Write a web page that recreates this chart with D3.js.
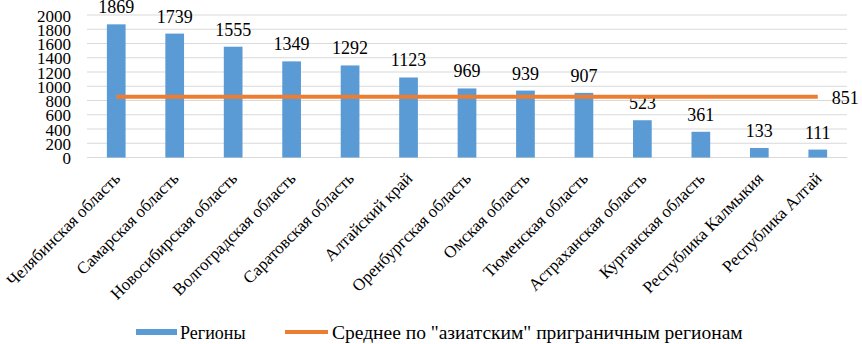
<!DOCTYPE html>
<html>
<head>
<meta charset="utf-8">
<script src="https://cdn.jsdelivr.net/npm/d3@7"></script>
<style>
  html, body { margin: 0; padding: 0; background: #fff; }
  svg { display: block; }
  svg text { font-family: "Liberation Serif", "Times New Roman", Times, serif; }
</style>
</head>
<body>
<svg id="chart" width="862" height="344"></svg>
<script>
const regions = [
  "Челябинская область", "Самарская область", "Новосибирская область",
  "Волгоградская область", "Саратовская область", "Алтайский край",
  "Оренбургская область", "Омская область", "Тюменская область",
  "Астраханская область", "Курганская область", "Республика Калмыкия",
  "Республика Алтай"
];
const values = [1869, 1739, 1555, 1349, 1292, 1123, 969, 939, 907, 523, 361, 133, 111];
const average = [851, 851, 851, 851, 851, 851, 851, 851, 851, 851, 851, 851, 851];
const yTicks = [0, 200, 400, 600, 800, 1000, 1200, 1400, 1600, 1800, 2000];
const legendLabels = ["Регионы", "Среднее по \"азиатским\" приграничным регионам"];

const blue = "#5b9bd5";
const orange = "#ed7d31";

const svg = d3.select("#chart");
const dims = { left: 87, right: 847, top: 15, bottom: 157.5 };

const x = d3.scaleBand()
  .domain(regions)
  .range([dims.left, dims.right])
  .paddingInner(0.68)
  .paddingOuter(0.34);

const y = d3.scaleLinear()
  .domain([0, 2000])
  .range([dims.bottom, dims.top]);

const cx = i => x(regions[i]) + x.bandwidth() / 2;

// gridlines
svg.append("g")
  .selectAll("line")
  .data(yTicks)
  .join("line")
  .attr("x1", dims.left)
  .attr("x2", dims.right)
  .attr("y1", d => y(d))
  .attr("y2", d => y(d))
  .attr("stroke", "#d9d9d9")
  .attr("stroke-width", 1);

// y axis labels (no domain, no ticks, just the numbers)
const yAxis = svg.append("g")
  .attr("transform", `translate(${dims.left - 16},0)`)
  .call(d3.axisLeft(y).tickValues(yTicks).tickSize(0).tickPadding(0).tickFormat(d3.format("d")))
  .attr("font-family", null)
  .attr("font-size", 17);
yAxis.select(".domain").remove();
yAxis.selectAll("text")
  .attr("fill", "#000")
  .attr("dy", "0.36em");

// bars
svg.append("g")
  .selectAll("rect")
  .data(values)
  .join("rect")
  .attr("x", (d, i) => x(regions[i]))
  .attr("width", x.bandwidth())
  .attr("y", d => y(d))
  .attr("height", d => y(0) - y(d))
  .attr("fill", blue);

// bar value labels
svg.append("g")
  .selectAll("text")
  .data(values)
  .join("text")
  .attr("x", (d, i) => cx(i))
  .attr("y", d => y(d) - 11)
  .attr("text-anchor", "middle")
  .attr("font-size", 18)
  .attr("fill", "#000")
  .text(d => d);

// average line
svg.append("path")
  .datum(average)
  .attr("fill", "none")
  .attr("stroke", orange)
  .attr("stroke-width", 4)
  .attr("d", d3.line().x((d, i) => cx(i)).y(d => y(d)));

const last = average.length - 1;
svg.append("text")
  .attr("x", cx(last) + 14)
  .attr("y", y(average[last]))
  .attr("dy", "0.4em")
  .attr("font-size", 18)
  .attr("fill", "#000")
  .text(average[last]);

// category labels, rotated
svg.append("g")
  .selectAll("text")
  .data(regions)
  .join("text")
  .attr("transform", d => `translate(${x(d) + x.bandwidth() / 2 + 5},${dims.bottom + 22}) rotate(-45)`)
  .attr("text-anchor", "end")
  .attr("font-size", 17)
  .attr("fill", "#000")
  .text(d => d);

// legend
const legend = svg.append("g");
legend.append("rect")
  .attr("x", 136).attr("y", 329)
  .attr("width", 41).attr("height", 6)
  .attr("fill", blue);
legend.append("text")
  .attr("x", 180).attr("y", 339)
  .attr("font-size", 18)
  .text(legendLabels[0]);
legend.append("line")
  .attr("x1", 285).attr("x2", 328)
  .attr("y1", 332).attr("y2", 332)
  .attr("stroke", orange).attr("stroke-width", 4);
legend.append("text")
  .attr("x", 332).attr("y", 339)
  .attr("font-size", 19.5)
  .text(legendLabels[1]);
</script>
</body>
</html>
